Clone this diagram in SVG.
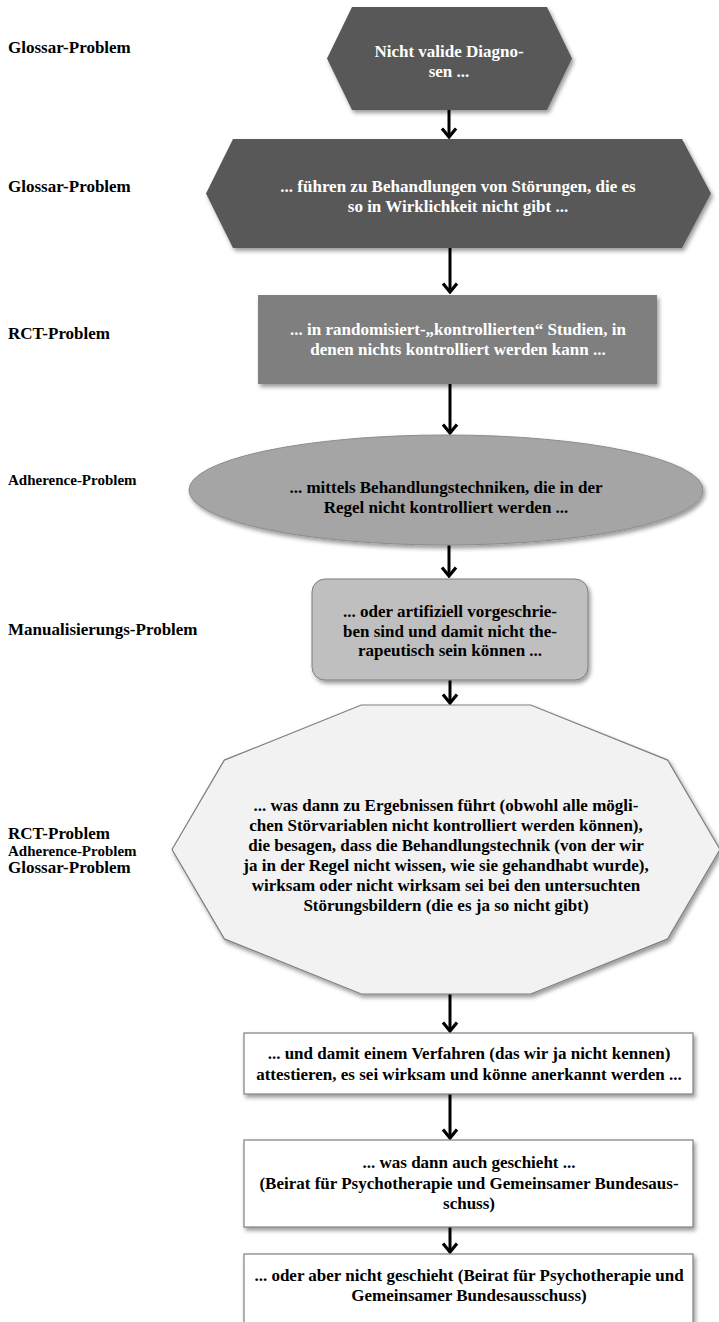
<svg xmlns="http://www.w3.org/2000/svg" width="719" height="1322" viewBox="0 0 719 1322">
<style>
text{font-family:"Liberation Serif","Times New Roman",serif;font-weight:bold;font-size:17px}
.w{fill:#ffffff;text-anchor:middle}
.b{fill:#000000;text-anchor:middle}
.lbl{fill:#000000}
.sm{font-size:15px}
.conn line{stroke:#000;stroke-width:3;marker-end:url(#arr)}
.sh{filter:url(#shadow)}
</style>
<defs>
<filter id="shadow" x="-10%" y="-10%" width="125%" height="130%">
<feDropShadow dx="2" dy="3" stdDeviation="2" flood-color="#000" flood-opacity="0.4"/>
</filter>
<marker id="arr" markerUnits="userSpaceOnUse" viewBox="-12 -9 14 18" markerWidth="14" markerHeight="18" refX="0" refY="0" orient="auto">
<path d="M-8.5,-7 L0,0 L-8.5,7" fill="none" stroke="#000" stroke-width="3.2"/>
</marker>
</defs>

<g id="labels">
<text class="lbl" x="8" y="53">Glossar-Problem</text>
<text class="lbl" x="8" y="192">Glossar-Problem</text>
<text class="lbl" x="8" y="339">RCT-Problem</text>
<text class="lbl sm" x="8" y="485">Adherence-Problem</text>
<text class="lbl" x="8" y="635">Manualisierungs-Problem</text>
<text class="lbl" x="8" y="839">RCT-Problem</text>
<text class="lbl sm" x="8" y="856">Adherence-Problem</text>
<text class="lbl" x="8" y="873">Glossar-Problem</text>
</g>

<g id="connectors" class="conn">
<line x1="449" y1="110" x2="449" y2="137"/>
<line x1="450" y1="248" x2="450" y2="292"/>
<line x1="450" y1="384" x2="450" y2="433"/>
<line x1="449" y1="545" x2="449" y2="576"/>
<line x1="450" y1="680" x2="450" y2="703"/>
<line x1="450" y1="994" x2="450" y2="1031"/>
<line x1="450" y1="1094" x2="450" y2="1138"/>
<line x1="450" y1="1227" x2="450" y2="1252"/>
</g>

<g id="n1">
<polygon class="sh" points="352,7 547,7 572,58.5 547,110 352,110 327,58.5" fill="#595959"/>
<text class="w" x="449" y="57">Nicht valide Diagno-</text>
<text class="w" x="449" y="77">sen ...</text>
</g>

<g id="n2">
<polygon class="sh" points="233,139 682,139 711,193.5 682,248 233,248 206,193.5" fill="#595959"/>
<text class="w" x="458" y="192">... führen zu Behandlungen von Störungen, die es</text>
<text class="w" x="458" y="212">so in Wirklichkeit nicht gibt ...</text>
</g>

<g id="n3">
<rect class="sh" x="258" y="295" width="399" height="89" fill="#7f7f7f"/>
<text class="w" x="458" y="335">... in randomisiert-„kontrollierten“ Studien, in</text>
<text class="w" x="458" y="355">denen nichts kontrolliert werden kann ...</text>
</g>

<g id="n4">
<ellipse class="sh" cx="446" cy="490" rx="257" ry="55" fill="#a5a5a5" stroke="#8c8c8c" stroke-width="1"/>
<text class="b" x="446" y="493">... mittels Behandlungstechniken, die in der</text>
<text class="b" x="446" y="513">Regel nicht kontrolliert werden ...</text>
</g>

<g id="n5">
<rect class="sh" x="312" y="579" width="276" height="101" rx="13" fill="#bfbfbf" stroke="#7f7f7f" stroke-width="1"/>
<text class="b" x="450" y="617">... oder artifiziell vorgeschrie-</text>
<text class="b" x="450" y="637">ben sind und damit nicht the-</text>
<text class="b" x="450" y="656">rapeutisch sein können ...</text>
</g>

<g id="n6">
<polygon class="sh" points="720,849.5 667.7,760.1 530.7,705 361.3,705 224.3,760.1 172,849.5 224.3,938.9 361.3,994 530.7,994 667.7,938.9" fill="#f2f2f2" stroke="#7f7f7f" stroke-width="1.2"/>
<text class="b" x="446" y="811">... was dann zu Ergebnissen führt (obwohl alle mögli-</text>
<text class="b" x="446" y="831">chen Störvariablen nicht kontrolliert werden können),</text>
<text class="b" x="446" y="851">die besagen, dass die Behandlungstechnik (von der wir</text>
<text class="b" x="446" y="871">ja in der Regel nicht wissen, wie sie gehandhabt wurde),</text>
<text class="b" x="446" y="891">wirksam oder nicht wirksam sei bei den untersuchten</text>
<text class="b" x="446" y="911">Störungsbildern (die es ja so nicht gibt)</text>
</g>

<g id="n7">
<rect class="sh" x="244" y="1033" width="449" height="61" fill="#ffffff" stroke="#7f7f7f" stroke-width="1.2"/>
<text class="b" x="469" y="1059">... und damit einem Verfahren (das wir ja nicht kennen)</text>
<text class="b" x="469" y="1080">attestieren, es sei wirksam und könne anerkannt werden ...</text>
</g>

<g id="n8">
<rect class="sh" x="244" y="1140" width="449" height="87" fill="#ffffff" stroke="#7f7f7f" stroke-width="1.2"/>
<text class="b" x="469" y="1168">... was dann auch geschieht ...</text>
<text class="b" x="469" y="1189">(Beirat für Psychotherapie und Gemeinsamer Bundesaus-</text>
<text class="b" x="469" y="1209">schuss)</text>
</g>

<g id="n9">
<rect class="sh" x="244" y="1254" width="449" height="100" fill="#ffffff" stroke="#7f7f7f" stroke-width="1.2"/>
<text class="b" x="469" y="1281">... oder aber nicht geschieht (Beirat für Psychotherapie und</text>
<text class="b" x="469" y="1301">Gemeinsamer Bundesausschuss)</text>
</g>
</svg>
